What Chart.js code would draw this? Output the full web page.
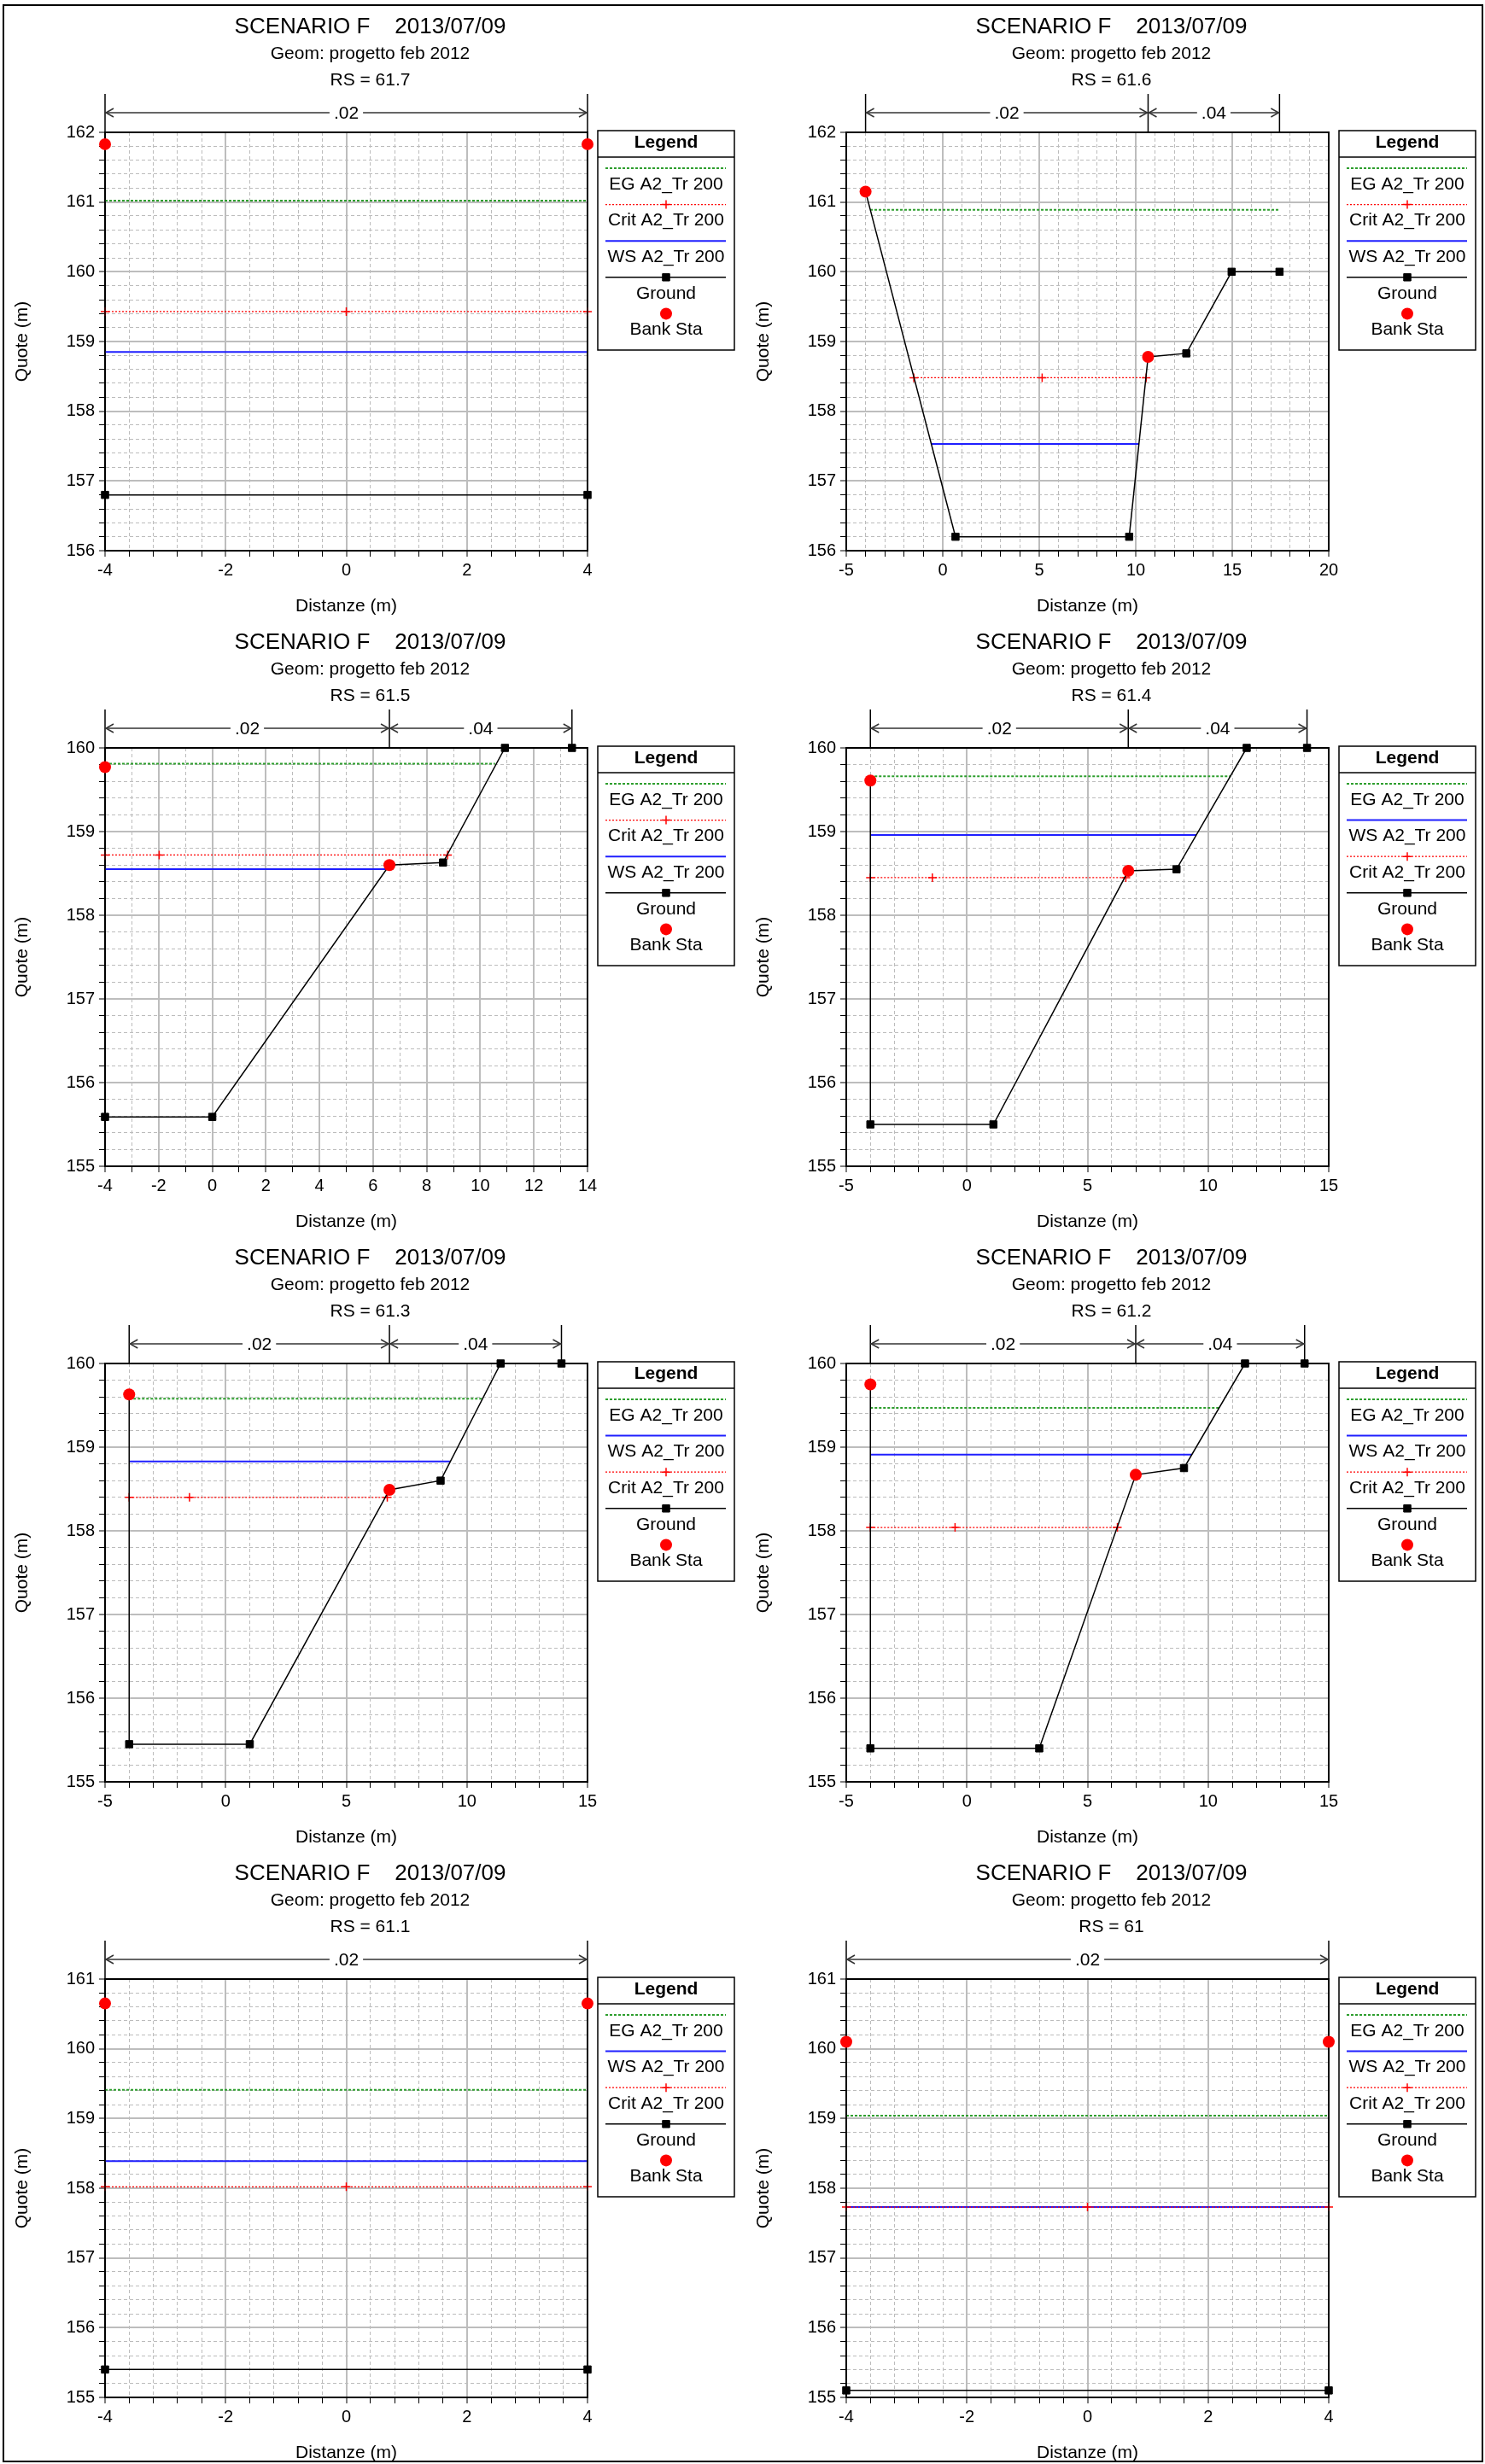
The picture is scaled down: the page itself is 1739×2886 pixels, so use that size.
<!DOCTYPE html>
<html>
<head>
<meta charset="utf-8">
<script src="https://cdn.jsdelivr.net/npm/chart.js@4.4.1/dist/chart.umd.min.js"></script>
<style>
  body { margin: 0; background: #fff; }
  #page { position: relative; width: 1739px; height: 2886px; overflow: hidden; }
  #frame { position: absolute; left: 3px; top: 5px; width: 1734px; height: 2879px; border: 2px solid #000; box-sizing: border-box; }
  .panel { position: absolute; }
</style>
</head>
<body>
<div id="page"><div id="frame"></div></div>
<script>
// ---- texts ----
const titleText = 'SCENARIO F    2013/07/09';
const geomText = 'Geom: progetto feb 2012';
const yTitle = 'Quote (m)', xTitle = 'Distanze (m)';
const labelEG = 'EG A2_Tr 200', labelWS = 'WS A2_Tr 200', labelCrit = 'Crit A2_Tr 200';

// ---- RS 61.7 ----
const ground617X = [-4, -4, 4, 4];
const ground617Y = [161.83, 156.8, 156.8, 161.83];
const bank617X = [-4, 4], bank617Y = [161.83, 161.83];
const eg617X = [-4, 4], eg617 = 161.02;
const crit617X = [-4, 0, 4], crit617 = 159.43;
const ws617X = [-4, 4], ws617 = 158.85;
const nEdges617 = [-4, 4], nVals617 = ['.02'];
const legend617 = [labelEG, labelCrit, labelWS, 'Ground', 'Bank Sta'];

// ---- RS 61.6 ----
const ground616X = [-4, 0.66, 9.66, 10.64, 12.62, 14.97, 17.45];
const ground616Y = [161.15, 156.2, 156.2, 158.78, 158.83, 160, 160];
const bank616X = [-4, 10.64], bank616Y = [161.15, 158.78];
const eg616X = [-3.76, 17.45], eg616 = 160.89;
const crit616X = [-1.5, 5.15, 10.54], crit616 = 158.48;
const ws616X = [-0.59, 10.15], ws616 = 157.53;
const nEdges616 = [-4, 10.64, 17.45], nVals616 = ['.02', '.04'];
const legend616 = [labelEG, labelCrit, labelWS, 'Ground', 'Bank Sta'];

// ---- RS 61.5 ----
const ground615X = [-4, -4, 0, 6.61, 8.61, 10.92, 13.42];
const ground615Y = [159.77, 155.59, 155.59, 158.6, 158.63, 160, 160];
const bank615X = [-4, 6.61], bank615Y = [159.77, 158.6];
const eg615X = [-4, 10.55], eg615 = 159.81;
const crit615X = [-4, -1.98, 8.78], crit615 = 158.72;
const ws615X = [-4, 6.48], ws615 = 158.55;
const nEdges615 = [-4, 6.61, 13.42], nVals615 = ['.02', '.04'];
const legend615 = [labelEG, labelCrit, labelWS, 'Ground', 'Bank Sta'];

// ---- RS 61.4 ----
const ground614X = [-4, -4, 1.1, 6.69, 8.69, 11.6, 14.1];
const ground614Y = [159.61, 155.5, 155.5, 158.53, 158.55, 160, 160];
const bank614X = [-4, 6.69], bank614Y = [159.61, 158.53];
const eg614X = [-4, 10.94], eg614 = 159.66;
const crit614X = [-4, -1.43, 6.59], crit614 = 158.45;
const ws614X = [-4, 9.51], ws614 = 158.96;
const nEdges614 = [-4, 6.69, 14.1], nVals614 = ['.02', '.04'];
const legend614 = [labelEG, labelWS, labelCrit, 'Ground', 'Bank Sta'];

// ---- RS 61.3 ----
const ground613X = [-4, -4, 1, 6.79, 8.91, 11.4, 13.92];
const ground613Y = [159.63, 155.45, 155.45, 158.49, 158.6, 160, 160];
const bank613X = [-4, 6.79], bank613Y = [159.63, 158.49];
const eg613X = [-4, 10.68], eg613 = 159.58;
const crit613X = [-4, -1.5, 6.7], crit613 = 158.4;
const ws613X = [-4, 9.3], ws613 = 158.83;
const nEdges613 = [-4, 6.79, 13.92], nVals613 = ['.02', '.04'];
const legend613 = [labelEG, labelWS, labelCrit, 'Ground', 'Bank Sta'];

// ---- RS 61.2 ----
const ground612X = [-4, -4, 3, 7, 9, 11.53, 14];
const ground612Y = [159.75, 155.4, 155.4, 158.67, 158.75, 160, 160];
const bank612X = [-4, 7], bank612Y = [159.75, 158.67];
const eg612X = [-4, 10.45], eg612 = 159.47;
const crit612X = [-4, -0.49, 6.24], crit612 = 158.04;
const ws612X = [-4, 9.33], ws612 = 158.91;
const nEdges612 = [-4, 7, 14], nVals612 = ['.02', '.04'];
const legend612 = [labelEG, labelWS, labelCrit, 'Ground', 'Bank Sta'];

// ---- RS 61.1 ----
const ground611X = [-4, -4, 4, 4];
const ground611Y = [160.65, 155.4, 155.4, 160.65];
const bank611X = [-4, 4], bank611Y = [160.65, 160.65];
const eg611X = [-4, 4], eg611 = 159.41;
const crit611X = [-4, 0, 4], crit611 = 158.02;
const ws611X = [-4, 4], ws611 = 158.39;
const nEdges611 = [-4, 4], nVals611 = ['.02'];
const legend611 = [labelEG, labelWS, labelCrit, 'Ground', 'Bank Sta'];

// ---- RS 61 ----
const ground61X = [-4, -4, 4, 4];
const ground61Y = [160.1, 155.1, 155.1, 160.1];
const bank61X = [-4, 4], bank61Y = [160.1, 160.1];
const eg61X = [-4, 4], eg61 = 159.04;
const crit61X = [-4, 0, 4], crit61 = 157.73;
const ws61X = [-4, 4], ws61 = 157.73;
const nEdges61 = [-4, 4], nVals61 = ['.02'];
const legend61 = [labelEG, labelWS, labelCrit, 'Ground', 'Bank Sta'];

// axis ranges: [min, max, minor step, major step]
const xAxisNarrow = [-4, 4, 0.4, 2];
const xAxis616 = [-5, 20, 1, 5];
const xAxis615 = [-4, 14, 1, 2];
const xAxisWide = [-5, 15, 1, 5];
const yAxis162 = [156, 162, 0.2, 1];
const yAxis160 = [155, 160, 0.2, 1];
const yAxis161 = [155, 161, 0.2, 1];

const panels = [
  { rs: '61.7', gx: ground617X, gy: ground617Y, bx: bank617X, by: bank617Y, egX: eg617X, eg: eg617, critX: crit617X, crit: crit617, wsX: ws617X, ws: ws617, nEdges: nEdges617, nVals: nVals617, legend: legend617, xa: xAxisNarrow, ya: yAxis162 },
  { rs: '61.6', gx: ground616X, gy: ground616Y, bx: bank616X, by: bank616Y, egX: eg616X, eg: eg616, critX: crit616X, crit: crit616, wsX: ws616X, ws: ws616, nEdges: nEdges616, nVals: nVals616, legend: legend616, xa: xAxis616, ya: yAxis162 },
  { rs: '61.5', gx: ground615X, gy: ground615Y, bx: bank615X, by: bank615Y, egX: eg615X, eg: eg615, critX: crit615X, crit: crit615, wsX: ws615X, ws: ws615, nEdges: nEdges615, nVals: nVals615, legend: legend615, xa: xAxis615, ya: yAxis160 },
  { rs: '61.4', gx: ground614X, gy: ground614Y, bx: bank614X, by: bank614Y, egX: eg614X, eg: eg614, critX: crit614X, crit: crit614, wsX: ws614X, ws: ws614, nEdges: nEdges614, nVals: nVals614, legend: legend614, xa: xAxisWide, ya: yAxis160 },
  { rs: '61.3', gx: ground613X, gy: ground613Y, bx: bank613X, by: bank613Y, egX: eg613X, eg: eg613, critX: crit613X, crit: crit613, wsX: ws613X, ws: ws613, nEdges: nEdges613, nVals: nVals613, legend: legend613, xa: xAxisWide, ya: yAxis160 },
  { rs: '61.2', gx: ground612X, gy: ground612Y, bx: bank612X, by: bank612Y, egX: eg612X, eg: eg612, critX: crit612X, crit: crit612, wsX: ws612X, ws: ws612, nEdges: nEdges612, nVals: nVals612, legend: legend612, xa: xAxisWide, ya: yAxis160 },
  { rs: '61.1', gx: ground611X, gy: ground611Y, bx: bank611X, by: bank611Y, egX: eg611X, eg: eg611, critX: crit611X, crit: crit611, wsX: ws611X, ws: ws611, nEdges: nEdges611, nVals: nVals611, legend: legend611, xa: xAxisNarrow, ya: yAxis161 },
  { rs: '61',   gx: ground61X,  gy: ground61Y,  bx: bank61X,  by: bank61Y,  egX: eg61X,  eg: eg61,  critX: crit61X,  crit: crit61,  wsX: ws61X,  ws: ws61,  nEdges: nEdges61,  nVals: nVals61,  legend: legend61,  xa: xAxisNarrow, ya: yAxis161 }
];

const FONT = "'Liberation Sans', Arial, Helvetica, sans-serif";
Chart.defaults.font.family = FONT;
Chart.defaults.color = '#000';

const PANEL_W = 869, PANEL_H = 721;
const panelLeft = [0, 868];
const panelTop = [0, 721, 1442, 2163];

function series(xs, ys) { return xs.map((x, i) => ({ x, y: ys[i] })); }
function level(xs, y) { return xs.map(x => ({ x, y })); }
function tickList(min, max, step) {
  const out = [];
  const n = Math.round((max - min) / step);
  for (let k = 0; k <= n; k++) out.push({ value: Math.round((min + k * step) * 1000) / 1000 });
  return out;
}
const isMajor = (v, major) => Math.abs(v / major - Math.round(v / major)) < 1e-6;

// titles, y title, Manning's n bands, frame and legend box
const sectionPlugin = {
  id: 'section',
  beforeDatasetsDraw(chart) {
    const { ctx, chartArea: a } = chart;
    ctx.save();
    ctx.strokeStyle = '#000';
    ctx.lineWidth = 2;
    ctx.strokeRect(a.left, a.top, a.right - a.left, a.bottom - a.top);
    ctx.restore();
  },
  afterDraw(chart, args, o) {
    const { ctx, chartArea: a, scales: { x } } = chart;
    ctx.save();
    ctx.fillStyle = '#000';
    ctx.textAlign = 'center';
    ctx.textBaseline = 'middle';
    const cx = chart.width / 2 - 1;
    ctx.font = '26px ' + FONT;
    ctx.fillText(titleText, cx, 32);
    ctx.font = '21px ' + FONT;
    ctx.fillText(geomText, cx, 63);
    ctx.fillText('RS = ' + o.rs, cx, 94);

    // vertical axis title
    ctx.save();
    ctx.translate(26, (a.top + a.bottom) / 2);
    ctx.rotate(-Math.PI / 2);
    ctx.fillText(yTitle, 0, 0);
    ctx.restore();

    // n-value bands
    const yArr = 132;
    ctx.strokeStyle = '#000';
    ctx.lineWidth = 1.5;
    o.nEdges.forEach(e => {
      const px = x.getPixelForValue(e);
      ctx.beginPath(); ctx.moveTo(px, 110); ctx.lineTo(px, a.top); ctx.stroke();
    });
    for (let i = 0; i < o.nVals.length; i++) {
      const x1 = x.getPixelForValue(o.nEdges[i]), x2 = x.getPixelForValue(o.nEdges[i + 1]);
      ctx.strokeStyle = '#333';
      ctx.lineWidth = 1.5;
      ctx.beginPath(); ctx.moveTo(x1, yArr); ctx.lineTo(x2, yArr); ctx.stroke();
      ctx.beginPath();
      ctx.moveTo(x1 + 10, yArr - 5); ctx.lineTo(x1 + 1, yArr); ctx.lineTo(x1 + 10, yArr + 5);
      ctx.moveTo(x2 - 10, yArr - 5); ctx.lineTo(x2 - 1, yArr); ctx.lineTo(x2 - 10, yArr + 5);
      ctx.stroke();
      const mid = (x1 + x2) / 2, w = ctx.measureText(o.nVals[i]).width + 10;
      ctx.fillStyle = '#fff';
      ctx.fillRect(mid - w / 2, yArr - 10, w, 20);
      ctx.fillStyle = '#000';
      ctx.fillText(o.nVals[i], mid, yArr + 1);
    }

    // legend box
    const lx = a.right + 12, ly = a.top - 2, lw = 160, lh = 257;
    ctx.strokeStyle = '#000';
    ctx.lineWidth = 1.5;
    ctx.strokeRect(lx, ly, lw, lh);
    ctx.beginPath(); ctx.moveTo(lx, ly + 31); ctx.lineTo(lx + lw, ly + 31); ctx.stroke();
    ctx.font = 'bold 21px ' + FONT;
    ctx.fillText('Legend', lx + lw / 2, ly + 14);
    ctx.font = '21px ' + FONT;
    o.legend.forEach((label, i) => {
      const ds = chart.data.datasets.find(d => d.label === label);
      const yLine = ly + 44 + 42.6 * i, yText = ly + 63 + 42.6 * i;
      ctx.save();
      if (ds.showLine) {
        ctx.strokeStyle = ds.borderColor;
        ctx.lineWidth = ds.borderWidth;
        ctx.setLineDash(ds.borderDash || []);
        ctx.beginPath(); ctx.moveTo(lx + 9, yLine); ctx.lineTo(lx + lw - 10, yLine); ctx.stroke();
        ctx.setLineDash([]);
      }
      if (ds.pointRadius > 0) {
        ctx.fillStyle = ds.pointBackgroundColor || ds.borderColor;
        ctx.strokeStyle = ds.pointBorderColor || ds.borderColor;
        ctx.lineWidth = ds.pointBorderWidth || 1;
        Chart.helpers.drawPoint(ctx, { pointStyle: ds.pointStyle, radius: ds.pointRadius, borderWidth: ds.pointBorderWidth, rotation: 0 }, lx + lw / 2, yLine);
      }
      ctx.restore();
      ctx.fillStyle = '#000';
      ctx.fillText(label, lx + lw / 2, yText);
    });
    ctx.restore();
  }
};

function axis(range, isX) {
  const [min, max, step, major] = range;
  return {
    type: 'linear', min, max,
    afterBuildTicks: s => { s.ticks = tickList(min, max, step); },
    afterFit: s => { if (isX) s.height = 76; else s.width = 123; },
    ticks: {
      autoSkip: false, maxRotation: 0, padding: isX ? 4 : 5,
      font: { size: 20 },
      callback: v => isMajor(v, major) ? String(v) : ''
    },
    grid: {
      color: c => isMajor(c.tick.value, major) ? '#bdbdbd' : '#bcbcbc',
      lineWidth: c => isMajor(c.tick.value, major) ? 2 : 1,
      tickColor: '#000', tickLength: 7, tickWidth: 1
    },
    border: {
      color: '#000', width: 2,
      dash: c => (c.tick && !isMajor(c.tick.value, major)) ? [4, 3] : []
    },
    title: {
      display: isX, text: xTitle,
      font: { size: 21, lineHeight: 1 },
      padding: 0
    }
  };
}

panels.forEach((p, idx) => {
  const row = Math.floor(idx / 2), col = idx % 2;
  const canvas = document.createElement('canvas');
  canvas.className = 'panel';
  canvas.width = PANEL_W;
  canvas.height = PANEL_H;
  canvas.style.left = panelLeft[col] + 'px';
  canvas.style.top = panelTop[row] + 'px';
  canvas.style.width = PANEL_W + 'px';
  canvas.style.height = PANEL_H + 'px';
  document.getElementById('page').appendChild(canvas);

  new Chart(canvas.getContext('2d'), {
    type: 'scatter',
    data: {
      datasets: [
        { label: labelEG, data: level(p.egX, p.eg), showLine: true, borderColor: '#2e9e2e', borderWidth: 2, borderDash: [3, 2], pointRadius: 0, order: 4, clip: false },
        { label: labelWS, data: level(p.wsX, p.ws), showLine: true, borderColor: '#1f1fff', borderWidth: 2, pointRadius: 0, order: 3, clip: false },
        { label: labelCrit, data: level(p.critX, p.crit), showLine: true, borderColor: '#ff0000', borderWidth: 1.2, borderDash: [2, 2], pointStyle: 'cross', pointRadius: 5, pointBorderWidth: 1.5, pointBorderColor: '#ff0000', pointBackgroundColor: '#ff0000', order: 2, clip: false },
        { label: 'Ground', data: series(p.gx, p.gy), showLine: true, borderColor: '#000', borderWidth: 1.5, pointStyle: 'rect', pointRadius: 6, pointBorderWidth: 1, pointBackgroundColor: '#000', pointBorderColor: '#000', order: 1, clip: false },
        { label: 'Bank Sta', data: series(p.bx, p.by), showLine: false, pointStyle: 'circle', pointRadius: 7, pointBorderWidth: 0, pointBackgroundColor: '#ff0000', pointBorderColor: '#ff0000', order: 0, clip: false }
      ]
    },
    options: {
      responsive: false,
      animation: false,
      events: [],
      layout: { padding: { left: 0, top: 155, right: PANEL_W - 688, bottom: 0 } },
      plugins: {
        legend: { display: false },
        tooltip: { enabled: false },
        section: { rs: p.rs, nEdges: p.nEdges, nVals: p.nVals, legend: p.legend }
      },
      scales: {
        x: axis(p.xa, true),
        y: axis(p.ya, false)
      }
    },
    plugins: [sectionPlugin]
  });
});
</script>
</body>
</html>
